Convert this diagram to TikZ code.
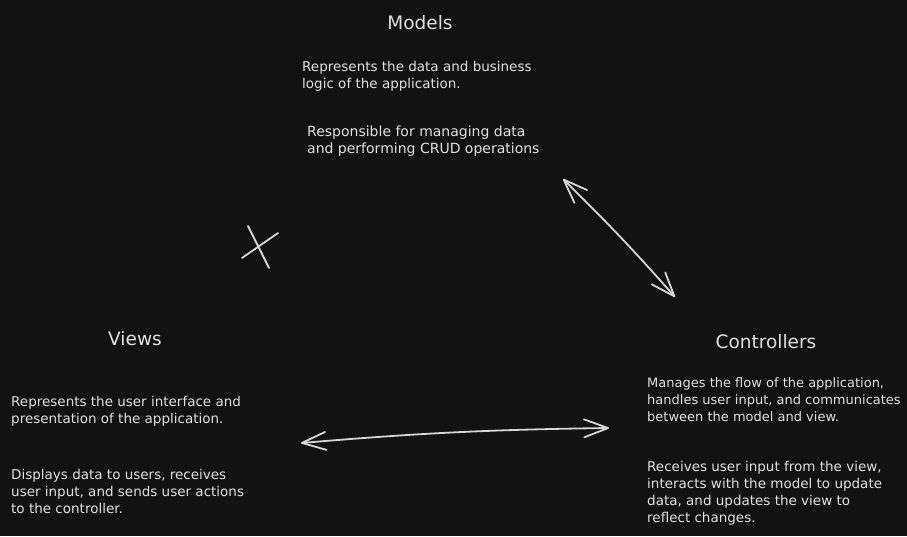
\documentclass[tikz,border=0pt]{standalone}
\usepackage{fontspec}
\setmainfont{DejaVu Sans}
\usetikzlibrary{arrows.meta}
\definecolor{bg}{HTML}{121212}
\definecolor{ink}{HTML}{E0E0E0}
\definecolor{stroke}{HTML}{D6D6D6}
\begin{document}
\begin{tikzpicture}[x=1pt,y=-1pt,
  title/.style={text=ink, font=\fontsize{18.5}{22}\selectfont, inner sep=0pt, anchor=base},
  body/.style={text=ink, font=\fontsize{13.5}{17.3}\selectfont, inner sep=0pt, anchor=base west, align=left},
  link/.style={draw=stroke, line width=1.8pt, line cap=round, line join=round,
    {Straight Barb[length=24pt,width=18pt,line join=round,line cap=round]}-{Straight Barb[length=24pt,width=18pt,line join=round,line cap=round]}},
  mark line/.style={draw=stroke, line width=1.8pt, line cap=round}
]
\fill[bg] (0,0) rectangle (907,536);
\useasboundingbox (0,0) rectangle (907,536);

% titles
\node[title] (models) at (420,29) {Models};
\node[title] (views) at (135,345) {Views};
\node[title] (controllers) at (766,348) {Controllers};

% descriptions (anchored at the baseline of the last line)
\node[body] (m1) at (302,88.3) {Represents the data and business\\logic of the application.};
\node[body, font=\fontsize{14}{17.6}\selectfont] (m2) at (307,153.6) {Responsible for managing data\\and performing CRUD operations};
\node[body] (v1) at (11,423.3) {Represents the user interface and\\presentation of the application.};
\node[body] (v2) at (11,513.6) {Displays data to users, receives\\user input, and sends user actions\\to the controller.};
\node[body, font=\fontsize{13}{17.3}\selectfont] (c1) at (647,421.6) {Manages the flow of the application,\\handles user input, and communicates\\between the model and view.};
\node[body] (c2) at (647,522.9) {Receives user input from the view,\\interacts with the model to update\\data, and updates the view to\\reflect changes.};

% connectors
\coordinate (va) at (301,443);
\coordinate (ca) at (609,428);
\coordinate (mb) at (563,179);
\coordinate (cb) at (675,297);
\draw[link] (va) to[bend left=2] (ca);
\draw[link] (mb) to[bend left=2] (cb);

% cross mark
\coordinate (x1) at (248,226);
\coordinate (x2) at (269,268);
\coordinate (x3) at (242,258);
\coordinate (x4) at (278,233);
\draw[mark line] (x1) -- (x2);
\draw[mark line] (x3) -- (x4);
\end{tikzpicture}
\end{document}
